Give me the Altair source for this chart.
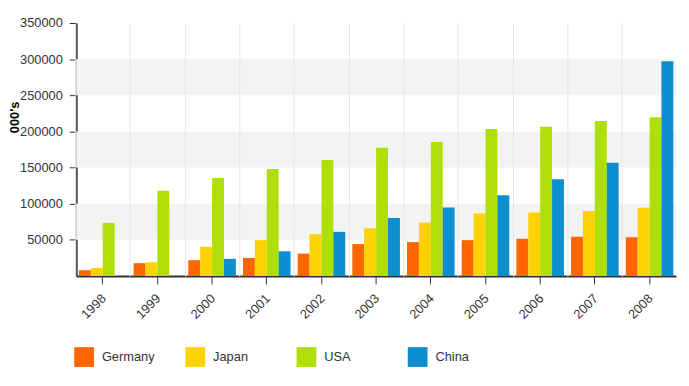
import altair as alt
import pandas as pd

years = ["1998", "1999", "2000", "2001", "2002", "2003", "2004", "2005", "2006", "2007", "2008"]
countries = ["Germany", "Japan", "USA", "China"]
colors = ["#FF6600", "#FCD202", "#B0DE09", "#0D8ECF"]

germany = [8000, 17800, 21900, 25000, 31000, 44200, 46900, 49600, 51500, 54300, 53700]
japan = [11000, 19000, 40600, 49600, 57800, 66000, 73800, 86500, 87900, 89800, 94300]
usa = [73400, 118000, 135700, 148000, 160400, 177300, 185500, 203300, 206400, 214600, 219700]
china = [None, None, 23700, 34200, 61100, 80200, 94700, 111700, 134000, 156800, 297000]

band_lo = [50000, 150000, 250000]
band_hi = [100000, 200000, 300000]
y_ticks = [50000, 100000, 150000, 200000, 250000, 300000, 350000]

rows = []
for c, vals in zip(countries, [germany, japan, usa, china]):
    for yr, v in zip(years, vals):
        if v is not None:
            rows.append({"year": yr, "country": c, "value": v})
df = pd.DataFrame(rows)
bands_df = pd.DataFrame({"lo": band_lo, "hi": band_hi})
years_df = pd.DataFrame({"year": years})

FONT = "Liberation Sans"
W, H = 607, 256

xscale = alt.Scale(domain=years, paddingInner=0.13, paddingOuter=0.05)
yscale = alt.Scale(domain=[0, 350000], nice=False, zero=True)

yaxis = alt.Axis(
    values=y_ticks, format="d", grid=False, tickSize=7, tickColor="#333333",
    domainColor="#333333", domainWidth=2, labelFontSize=13, labelColor="#333333",
    labelFont=FONT, labelPadding=7,
    title="000's", titleFont=FONT, titleFontSize=13, titleFontWeight="bold",
    titleColor="#000000", titleAngle=270, titleX=-62, titleY=95,
    titleAlign="center", titleBaseline="middle",
)

bands = alt.Chart(bands_df).mark_rect(color="#f3f3f3").encode(
    y=alt.Y("lo:Q", scale=yscale, axis=yaxis),
    y2="hi:Q",
)

gridlayer = alt.Chart(years_df).mark_point(opacity=0).encode(
    x=alt.X("year:N", scale=xscale, sort=years, axis=alt.Axis(
        orient="top", grid=True, gridColor="#e6e6e6", gridWidth=1,
        bandPosition=0, tickOffset=-3.6, labels=False, ticks=False,
        domain=False, title=None, zindex=1)),
)

bars = alt.Chart(df).mark_bar().encode(
    x=alt.X("year:N", scale=xscale, sort=years, axis=alt.Axis(
        orient="bottom", title=None, grid=False, labelAngle=-45,
        labelFontSize=13, labelFont=FONT, labelColor="#333333",
        tickSize=8, tickColor="#333333", domainColor="#333333",
        domainWidth=2, labelPadding=8, labelOffset=-3)),
    xOffset=alt.XOffset("country:N", sort=countries,
                        scale=alt.Scale(domain=countries, paddingInner=0, paddingOuter=0)),
    y=alt.Y("value:Q", scale=yscale, axis=yaxis),
    color=alt.Color("country:N", scale=alt.Scale(domain=countries, range=colors),
                    legend=alt.Legend(
                        orient="none", legendX=-2, legendY=328, direction="horizontal",
                        columns=4, gridAlign="all", columnPadding=30.5,
                        symbolType="square", symbolSize=400, symbolStrokeWidth=0,
                        symbolOpacity=1, labelFontSize=13, labelFont=FONT,
                        labelColor="#333333", labelOffset=8, title=None,
                        padding=0)),
)

chart = alt.layer(bands, gridlayer, bars).resolve_axis(x="independent").properties(
    width=W, height=H,
    autosize=alt.AutoSizeParams(type="none"),
    padding={"left": 69, "top": 13, "right": 5, "bottom": 100},
).configure_view(stroke=None)

chart.save("out.html", embed_options={"renderer": "svg", "actions": False})
